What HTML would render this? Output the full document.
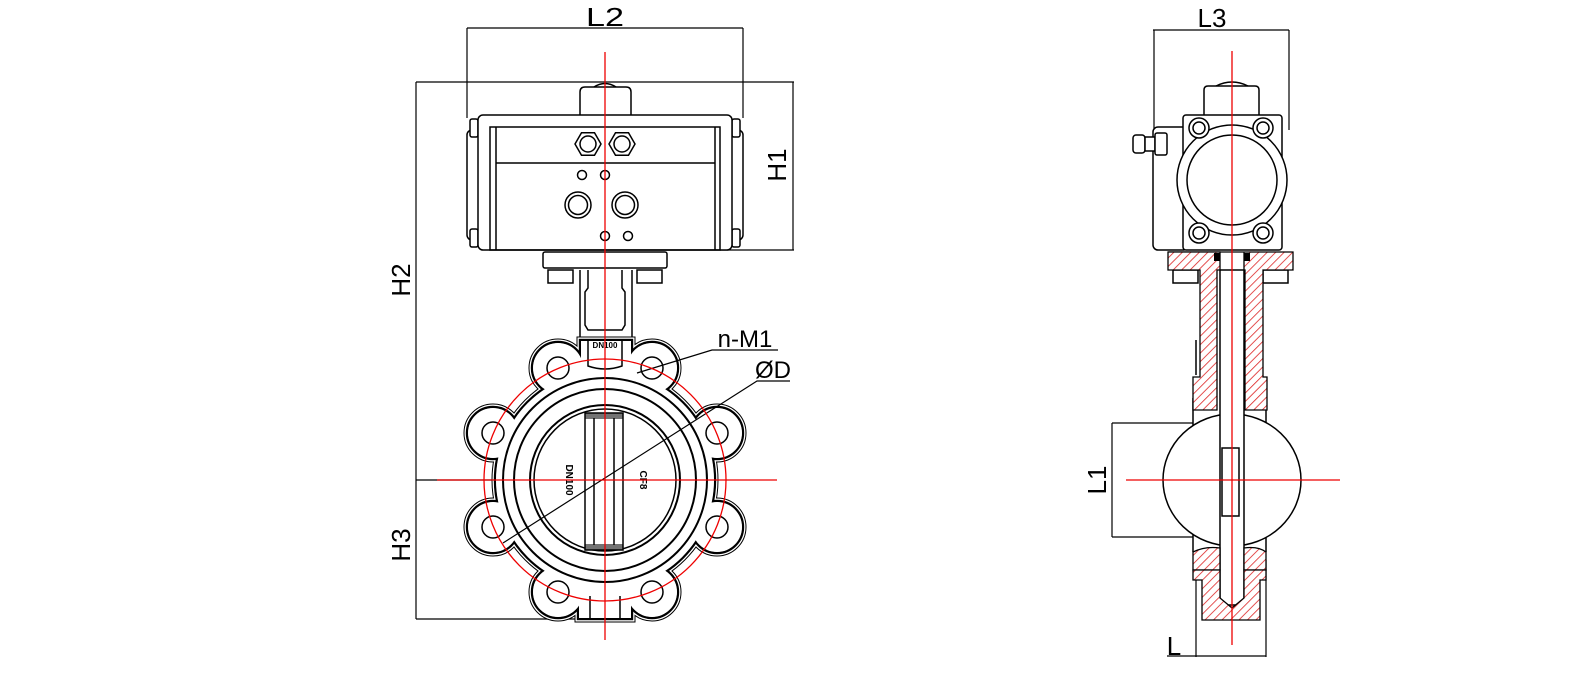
<!DOCTYPE html>
<html><head><meta charset="utf-8"><style>
html,body{margin:0;padding:0;background:#fff;}
svg{display:block;}
text{font-family:"Liberation Sans",sans-serif;}
</style></head><body>
<svg width="1581" height="679" viewBox="0 0 1581 679" xmlns="http://www.w3.org/2000/svg">
<defs>
<pattern id="h" patternUnits="userSpaceOnUse" width="6" height="6" patternTransform="rotate(45)">
<rect width="6" height="6" fill="#fff"/><line x1="0" y1="0" x2="0" y2="6" stroke="#d22" stroke-width="1.6"/>
</pattern>
</defs>
<g fill="none" stroke="#000" stroke-width="1.2">
<line x1="467" y1="28" x2="743" y2="28"/>
<line x1="467" y1="28" x2="467" y2="118"/>
<line x1="743" y1="28" x2="743" y2="118"/>
<line x1="416" y1="82" x2="794" y2="82"/>
<line x1="793" y1="82" x2="793" y2="250"/>
<line x1="720" y1="250" x2="794" y2="250"/>
<line x1="416" y1="82" x2="416" y2="619"/>
<line x1="416" y1="480" x2="605" y2="480"/>
<line x1="416" y1="619" x2="590" y2="619"/>
</g>
<text x="605" y="26" font-size="26" text-anchor="middle" textLength="38" lengthAdjust="spacingAndGlyphs">L2</text>
<text transform="translate(786,165) rotate(-90)" font-size="26" text-anchor="middle">H1</text>
<text transform="translate(410,280) rotate(-90)" font-size="26" text-anchor="middle">H2</text>
<text transform="translate(410,545) rotate(-90)" font-size="26" text-anchor="middle">H3</text>

<g fill="#fff" stroke="#000" stroke-width="1.5">
<path d="M580 115 V92 Q580 87 585 87 H626 Q631 87 631 92 V115"/>
<path d="M594 87 Q605 80 616 87" fill="none"/>
<rect x="467" y="130" width="12" height="110" rx="5"/>
<rect x="731" y="130" width="12" height="110" rx="5"/>
<rect x="470" y="119" width="8" height="18" rx="2"/>
<rect x="470" y="229" width="8" height="18" rx="2"/>
<rect x="732" y="119" width="8" height="18" rx="2"/>
<rect x="732" y="229" width="8" height="18" rx="2"/>
<rect x="478" y="115" width="254" height="135" rx="5"/>
<rect x="490" y="127" width="230" height="123" fill="none"/>
<line x1="496" y1="127" x2="496" y2="250"/>
<line x1="715" y1="127" x2="715" y2="250"/>
<line x1="496" y1="163" x2="715" y2="163"/>
<polygon points="575,144 581.5,132.7 594.5,132.7 601,144 594.5,155.3 581.5,155.3"/>
<circle cx="588" cy="144" r="8"/>
<polygon points="609,144 615.5,132.7 628.5,132.7 635,144 628.5,155.3 615.5,155.3"/>
<circle cx="622" cy="144" r="8"/>
<circle cx="582" cy="175" r="4.5"/><circle cx="605" cy="175" r="4.5"/>
<circle cx="578" cy="205" r="13"/><circle cx="578" cy="205" r="9.5"/>
<circle cx="625" cy="205" r="13"/><circle cx="625" cy="205" r="9.5"/>
<circle cx="605" cy="236" r="4.5"/><circle cx="628" cy="236" r="4.5"/>
<rect x="543" y="252" width="124" height="16" rx="2"/>
<rect x="548" y="270" width="25" height="13"/>
<rect x="637" y="270" width="25" height="13"/>
<path d="M580 270 V345 L575 360 M632 270 V345 L637 360" fill="none"/>
<path d="M588 270 V288 L585 292 V325 L588 330 H622 L625 325 V292 L622 288 V270" fill="none"/>
</g>

<g>
<g stroke="#000" stroke-width="7" fill="#000">
<circle cx="605" cy="480" r="110"/>
<circle cx="493" cy="433" r="26"/><circle cx="717" cy="433" r="26"/>
<circle cx="493" cy="527" r="26"/><circle cx="717" cy="527" r="26"/>
<circle cx="558" cy="368" r="26"/><circle cx="652" cy="368" r="26"/>
<circle cx="558" cy="592" r="26"/><circle cx="652" cy="592" r="26"/>
<rect x="580" y="340" width="52" height="60"/><rect x="578" y="560" width="54" height="59"/>
</g>
<g stroke="#fff" stroke-width="5" fill="#fff">
<circle cx="605" cy="480" r="110"/>
<circle cx="493" cy="433" r="26"/><circle cx="717" cy="433" r="26"/>
<circle cx="493" cy="527" r="26"/><circle cx="717" cy="527" r="26"/>
<circle cx="558" cy="368" r="26"/><circle cx="652" cy="368" r="26"/>
<circle cx="558" cy="592" r="26"/><circle cx="652" cy="592" r="26"/>
<rect x="580" y="340" width="52" height="60"/><rect x="578" y="560" width="54" height="59"/>
</g>
<g stroke="#000" stroke-width="2.4" fill="#fff">
<circle cx="605" cy="480" r="110"/>
<circle cx="493" cy="433" r="26"/><circle cx="717" cy="433" r="26"/>
<circle cx="493" cy="527" r="26"/><circle cx="717" cy="527" r="26"/>
<circle cx="558" cy="368" r="26"/><circle cx="652" cy="368" r="26"/>
<circle cx="558" cy="592" r="26"/><circle cx="652" cy="592" r="26"/>
<rect x="580" y="340" width="52" height="60"/><rect x="578" y="560" width="54" height="59"/>
</g>
<g fill="#fff" stroke="none">
<circle cx="605" cy="480" r="109"/>
<circle cx="493" cy="433" r="25"/><circle cx="717" cy="433" r="25"/>
<circle cx="493" cy="527" r="25"/><circle cx="717" cy="527" r="25"/>
<circle cx="558" cy="368" r="25"/><circle cx="652" cy="368" r="25"/>
<circle cx="558" cy="592" r="25"/><circle cx="652" cy="592" r="25"/>
<rect x="581" y="341" width="50" height="58"/><rect x="579" y="561" width="52" height="57"/>
</g>
</g>
<g fill="none" stroke="#000" stroke-width="1.5">
<circle cx="493" cy="433" r="11"/><circle cx="717" cy="433" r="11"/>
<circle cx="493" cy="527" r="11"/><circle cx="717" cy="527" r="11"/>
<circle cx="558" cy="368" r="11"/><circle cx="652" cy="368" r="11"/>
<circle cx="558" cy="592" r="11"/><circle cx="652" cy="592" r="11"/>
<circle cx="605" cy="480" r="102" stroke-width="2"/>
<circle cx="605" cy="480" r="91" stroke-width="2"/>
<circle cx="605" cy="480" r="75" stroke-width="2"/>
<circle cx="605" cy="480" r="71"/>
<path d="M588 340 V366 Q605 372 622 366 V340"/>
<line x1="590" y1="596" x2="590" y2="619"/><line x1="620" y1="596" x2="620" y2="619"/>
<rect x="585" y="413" width="38" height="137" fill="#fff"/>
<line x1="594" y1="418" x2="594" y2="545"/><line x1="614" y1="418" x2="614" y2="545"/>
<rect x="585" y="413" width="38" height="6" fill="#000" stroke="none" opacity="0.55"/>
<rect x="585" y="544" width="38" height="6" fill="#000" stroke="none" opacity="0.55"/>
</g>
<text transform="translate(566,480) rotate(90)" font-size="10" font-weight="bold" text-anchor="middle">DN100</text>
<text transform="translate(640,480) rotate(90)" font-size="10" font-weight="bold" text-anchor="middle">CF8</text>
<text x="605" y="348" font-size="8" font-weight="bold" text-anchor="middle">DN100</text>
<g stroke="#000" stroke-width="1.2" fill="none">
<polyline points="778,350 712,350 637,373"/>
<polyline points="790,381 757,381 503,543"/>
</g>
<text x="745" y="347" font-size="24" text-anchor="middle">n-M1</text>
<text x="773" y="378" font-size="24" text-anchor="middle">ØD</text>
<g stroke="#e00" stroke-width="1.3" fill="none">
<line x1="605" y1="52" x2="605" y2="640"/>
<line x1="437" y1="480" x2="777" y2="480"/>
<circle cx="605" cy="480" r="121"/>
</g>

<!-- RIGHT VIEW -->
<g fill="none" stroke="#000" stroke-width="1.2">
<line x1="1153" y1="30" x2="1289" y2="30"/>
<line x1="1154" y1="30" x2="1154" y2="130"/>
<line x1="1289" y1="30" x2="1289" y2="130"/>
<line x1="1112" y1="423" x2="1112" y2="537"/>
<line x1="1112" y1="423" x2="1193" y2="423"/>
<line x1="1112" y1="537" x2="1193" y2="537"/>
<line x1="1167" y1="656" x2="1266" y2="656"/>
<line x1="1196" y1="560" x2="1196" y2="657"/>
<line x1="1266" y1="560" x2="1266" y2="657"/>
</g>
<text x="1212" y="27" font-size="26" text-anchor="middle">L3</text>
<text transform="translate(1106,480) rotate(-90)" font-size="26" text-anchor="middle">L1</text>
<text x="1174" y="655" font-size="26" text-anchor="middle">L</text>

<g fill="#fff" stroke="#000" stroke-width="1.5">
<path d="M1204 115 V90 Q1204 86 1208 86 H1255 Q1259 86 1259 90 V115"/>
<path d="M1216 86 Q1232 78 1248 86" fill="none"/>
<rect x="1153" y="127" width="35" height="123" rx="5"/>
<rect x="1133" y="135" width="12" height="18" rx="3"/>
<rect x="1145" y="137" width="10" height="14"/>
<rect x="1155" y="133" width="12" height="22" rx="2"/>
<rect x="1183" y="115" width="99" height="135" rx="3"/>
<circle cx="1232" cy="180" r="55"/>
<circle cx="1232" cy="180" r="45"/>
<circle cx="1199" cy="128" r="10"/><circle cx="1199" cy="128" r="6"/>
<circle cx="1263" cy="128" r="10"/><circle cx="1263" cy="128" r="6"/>
<circle cx="1199" cy="233" r="10"/><circle cx="1199" cy="233" r="6"/>
<circle cx="1263" cy="233" r="10"/><circle cx="1263" cy="233" r="6"/>
<rect x="1173" y="270" width="25" height="13"/>
<rect x="1263" y="270" width="25" height="13"/>
<line x1="1193" y1="398" x2="1193" y2="552"/>
<line x1="1266" y1="398" x2="1266" y2="552"/>
<ellipse cx="1232" cy="480" rx="69" ry="66"/>
<rect x="1220" y="270" width="24" height="335" fill="#fff"/>
<rect x="1222" y="448" width="17" height="68" fill="#fff"/>
<line x1="1196" y1="340" x2="1196" y2="375"/>
<line x1="1262" y1="340" x2="1262" y2="375"/>
</g>
<g fill="url(#h)" stroke="#000" stroke-width="1.3">
<path d="M1168 252 H1293 V270 H1263 V377 H1267 V410 H1245 V270 H1244 V252 Z"/>
<path d="M1168 252 H1220 V270 H1217 V410 H1193 V377 H1200 V270 H1168 Z"/>
<path d="M1193 552 Q1205 546 1220 548 V570 H1193 Z"/>
<path d="M1244 548 Q1258 546 1266 552 V570 H1244 Z"/>
<path d="M1193 570 H1220 V598 L1232 608 L1244 598 V570 H1266 V580 H1260 V620 H1202 V580 H1193 Z"/>
</g>
<g fill="#000">
<rect x="1214" y="253" width="6" height="8"/>
<rect x="1244" y="253" width="6" height="8"/>
</g>
<g stroke="#e00" stroke-width="1.3" fill="none">
<line x1="1232" y1="51" x2="1232" y2="645"/>
<line x1="1126" y1="480" x2="1340" y2="480"/>
</g>
</svg>
</body></html>
